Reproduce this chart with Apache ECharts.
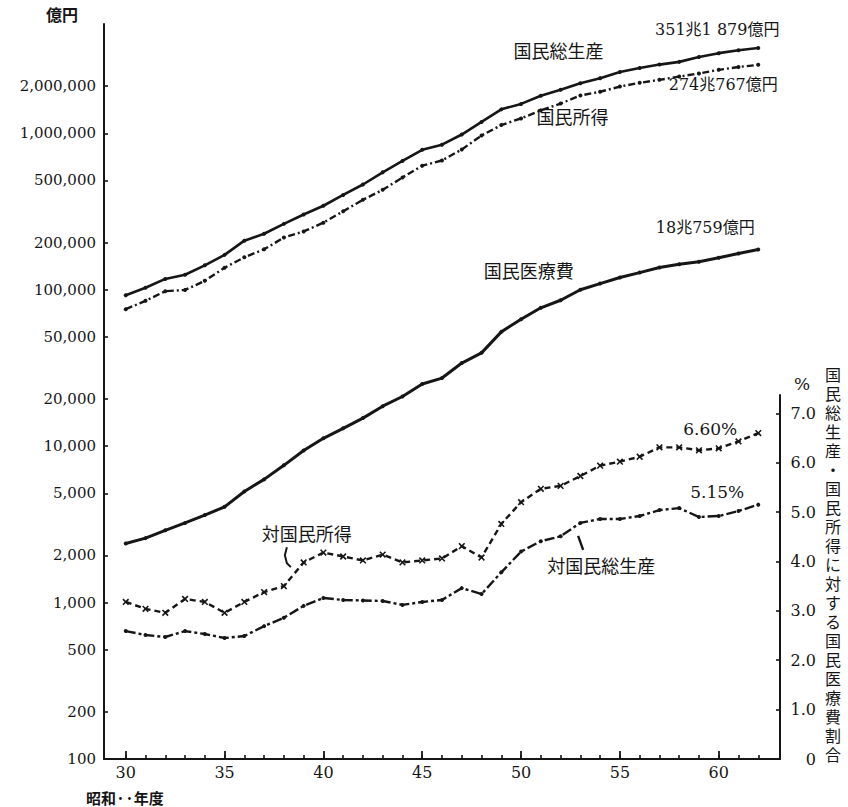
<!DOCTYPE html>
<html lang="ja">
<head>
<meta charset="utf-8">
<title>国民医療費と国民総生産・国民所得の推移</title>
<script src="https://cdn.jsdelivr.net/npm/echarts@6/dist/echarts.min.js"></script>
<style>
  html, body { margin: 0; padding: 0; background: #ffffff; }
  #chart { width: 848px; height: 807px; }
</style>
</head>
<body>
<div id="chart"></div>
<script>
// 昭和年度
const years = [30, 31, 32, 33, 34, 35, 36, 37, 38, 39, 40, 41, 42, 43, 44, 45, 46,
               47, 48, 49, 50, 51, 52, 53, 54, 55, 56, 57, 58, 59, 60, 61, 62];

// 国民総生産（億円）
const gnp = [92200, 102900, 117300, 124700, 143300, 167100, 206000, 228000, 263700,
             302900, 344300, 403800, 470900, 563000, 666000, 785000, 846300, 982500,
             1182500, 1422900, 1542000, 1738900, 1900000, 2093000, 2253300, 2465100,
             2616000, 2751000, 2863000, 3080000, 3255000, 3400000, 3511879];

// 国民所得（億円）
const nationalIncome = [75100, 85000, 97900, 99700, 114000, 138300, 161300, 181400,
             215500, 235900, 268500, 317100, 376000, 435200, 522100, 621000, 671200,
             788700, 968000, 1130000, 1245800, 1401900, 1549500, 1745900, 1843600,
             1990100, 2103100, 2197400, 2304900, 2414900, 2546300, 2654600, 2740767];

// 国民医療費（億円）
const medicalCost = [2388, 2583, 2897, 3230, 3625, 4095, 5130, 6132, 7541, 9389,
             11224, 13002, 15116, 18016, 20780, 24962, 27250, 33994, 39496, 53786,
             64779, 76684, 85686, 100042, 109510, 119805, 128709, 138659, 145438,
             150932, 160159, 170690, 180759];

// 国民医療費の割合（%）
const ratioToIncome = [3.18, 3.04, 2.96, 3.24, 3.18, 2.96, 3.18, 3.38, 3.50, 3.98,
             4.18, 4.10, 4.02, 4.14, 3.98, 4.02, 4.06, 4.31, 4.08, 4.76, 5.20, 5.47,
             5.53, 5.73, 5.94, 6.02, 6.12, 6.31, 6.31, 6.25, 6.29, 6.43, 6.60];
const ratioToGnp = [2.59, 2.51, 2.47, 2.59, 2.53, 2.45, 2.49, 2.69, 2.86, 3.10,
             3.26, 3.22, 3.21, 3.20, 3.12, 3.18, 3.22, 3.46, 3.34, 3.78, 4.20, 4.41,
             4.51, 4.78, 4.86, 4.86, 4.92, 5.04, 5.08, 4.90, 4.92, 5.02, 5.15];

// 目盛
const leftTicks = [100, 200, 500, 1000, 2000, 5000, 10000, 20000, 50000,
                   100000, 200000, 500000, 1000000, 2000000];
const rightTicks = [0, 1, 2, 3, 4, 5, 6, 7];
const yearMajorTicks = [30, 35, 40, 45, 50, 55, 60];

const ink = '#161616';
const numFont = '"DejaVu Serif", "Noto Sans CJK JP", serif';
const cjkFont = '"Noto Sans CJK JP", sans-serif';
const stackFont = '"Liberation Sans", "Noto Sans CJK JP", sans-serif';
const sideTitle = '国民総生産・国民所得に対する国民医療費割合';

// 351兆1 879億円 の形に整える
function formatChoOku(v) {
  const cho = Math.floor(v / 10000);
  const oku = v % 10000;
  const okuText = oku >= 1000
    ? Math.floor(oku / 1000) + ' ' + String(oku % 1000).padStart(3, '0')
    : String(oku);
  return cho + '兆' + okuText + '億円';
}

function seriesData(values, notes) {
  const data = years.map((y, i) => [y, values[i]]);
  notes.forEach(n => {
    const i = years.indexOf(n.year);
    data[i] = {
      value: data[i],
      label: {
        show: true, position: 'inside', offset: n.offset, formatter: n.text,
        fontSize: n.size, fontFamily: n.font, color: ink
      }
    };
  });
  return data;
}

const last = years[years.length - 1];
const lastIdx = years.length - 1;

const crossMark = 'path://M4,0L6,0L6,4L10,4L10,6L6,6L6,10L4,10L4,6L0,6L0,4L4,4Z';

const chart = echarts.init(document.getElementById('chart'), null, { renderer: 'svg' });

// 軸外の見出し（年度・縦書きの割合見出し）
const fixedTexts = [
  {
    type: 'text', left: 86, top: 790,
    style: { text: '昭和··年度', fill: ink, fontSize: 15, fontFamily: cjkFont, fontWeight: 'bold' }
  },
  {
    type: 'text', left: 825, top: 366,
    style: { text: sideTitle.split('').join('\n'), fill: ink, fontSize: 16,
             lineHeight: 19, fontFamily: stackFont, align: 'center' }
  }
];

const option = {
  animation: false,
  backgroundColor: '#ffffff',
  grid: [
    { left: 104, right: 68, top: 24, bottom: 48, containLabel: false, outerBoundsMode: 'none' },
    { left: 104, right: 68, top: 395, bottom: 48, containLabel: false, outerBoundsMode: 'none' }
  ],
  xAxis: [
    { // 毎年の目盛
      gridIndex: 0, type: 'value', min: 28.9, max: 63.1, position: 'bottom',
      axisLine: { show: true, lineStyle: { color: ink, width: 2 } },
      axisTick: { show: true, inside: true, length: 4, customValues: years,
                  lineStyle: { color: ink, width: 1.6 } },
      axisLabel: { show: false },
      splitLine: { show: false }
    },
    { // 5年ごとの目盛と年度
      gridIndex: 0, type: 'value', min: 28.9, max: 63.1, position: 'bottom',
      axisLine: { show: false },
      axisTick: { show: true, inside: true, length: 8, customValues: yearMajorTicks,
                  lineStyle: { color: ink, width: 1.8 } },
      axisLabel: { show: true, customValues: yearMajorTicks, margin: 5,
                   color: ink, fontSize: 16, fontFamily: numFont },
      splitLine: { show: false }
    },
    {
      gridIndex: 1, type: 'value', min: 28.9, max: 63.1, show: false
    }
  ],
  yAxis: [
    {
      gridIndex: 0, type: 'log', logBase: 10, min: 100, max: 5000000, position: 'left',
      name: '億円', nameLocation: 'end', nameGap: 2,
      nameTextStyle: { color: ink, fontSize: 16, fontFamily: cjkFont, fontWeight: 'bold',
                       align: 'right', padding: [0, 26, 0, 0] },
      axisLine: { show: true, lineStyle: { color: ink, width: 2 } },
      axisTick: { show: true, inside: true, length: 4, customValues: leftTicks,
                  lineStyle: { color: ink, width: 1.6 } },
      axisLabel: { show: true, customValues: leftTicks, margin: 8, color: ink,
                   fontSize: 15, fontFamily: numFont,
                   formatter: v => Math.round(v).toLocaleString('en-US') },
      splitLine: { show: false }
    },
    {
      gridIndex: 1, type: 'value', min: 0, max: 7.37, position: 'right',
      name: '%', nameLocation: 'end', nameGap: 3,
      nameTextStyle: { color: ink, fontSize: 17, fontFamily: numFont,
                       align: 'left', padding: [0, 0, 0, 14] },
      axisLine: { show: true, lineStyle: { color: ink, width: 2 } },
      axisTick: { show: true, inside: true, length: 4, customValues: rightTicks,
                  lineStyle: { color: ink, width: 1.6 } },
      axisLabel: { show: true, customValues: rightTicks, margin: 36, align: 'right',
                   color: ink, fontSize: 16, fontFamily: numFont,
                   formatter: v => (v === 0 ? '0' : v.toFixed(1)) },
      splitLine: { show: false }
    }
  ],
  series: [
    {
      name: '国民総生産', type: 'line', xAxisIndex: 0, yAxisIndex: 0,
      symbol: 'circle', symbolSize: 4, itemStyle: { color: ink },
      lineStyle: { color: ink, width: 2.6 },
      data: seriesData(gnp, [
        { year: 52, text: '国民総生産', offset: [-2, -40], size: 18, font: cjkFont },
        { year: last, text: formatChoOku(gnp[lastIdx]), offset: [-41, -18], size: 16, font: numFont }
      ])
    },
    {
      name: '国民所得', type: 'line', xAxisIndex: 0, yAxisIndex: 0,
      symbol: 'circle', symbolSize: 4, itemStyle: { color: ink },
      lineStyle: { color: ink, width: 2.4, type: [7, 3, 2, 3] },
      data: seriesData(nationalIncome, [
        { year: 52, text: '国民所得', offset: [12, 12], size: 18, font: cjkFont },
        { year: last, text: formatChoOku(nationalIncome[lastIdx]), offset: [-35, 20], size: 16, font: numFont }
      ])
    },
    {
      name: '国民医療費', type: 'line', xAxisIndex: 0, yAxisIndex: 0,
      symbol: 'circle', symbolSize: 4, itemStyle: { color: ink },
      lineStyle: { color: ink, width: 3 },
      data: seriesData(medicalCost, [
        { year: 51, text: '国民医療費', offset: [-12, -38], size: 18, font: cjkFont },
        { year: last, text: formatChoOku(medicalCost[lastIdx]), offset: [-53, -22], size: 16, font: numFont }
      ])
    },
    {
      name: '対国民所得', type: 'line', xAxisIndex: 2, yAxisIndex: 1,
      symbol: crossMark, symbolRotate: 45, symbolSize: 8, itemStyle: { color: ink },
      lineStyle: { color: ink, width: 2.4, type: [6, 4] },
      data: seriesData(ratioToIncome, [
        { year: 38, text: '対国民所得', offset: [23, -53], size: 18, font: cjkFont },
        { year: last, text: ratioToIncome[lastIdx].toFixed(2) + '%', offset: [-48, -4], size: 17, font: numFont }
      ])
    },
    {
      name: '対国民総生産', type: 'line', xAxisIndex: 2, yAxisIndex: 1,
      symbol: 'circle', symbolSize: 4, itemStyle: { color: ink },
      lineStyle: { color: ink, width: 2.4, type: [10, 3, 3, 3] },
      data: seriesData(ratioToGnp, [
        { year: 54, text: '対国民総生産', offset: [1, 46], size: 18, font: cjkFont },
        { year: last, text: ratioToGnp[lastIdx].toFixed(2) + '%', offset: [-41, -13], size: 17, font: numFont }
      ])
    }
  ],
  graphic: fixedTexts
};

chart.setOption(option);

// 注記の引出線
const a1 = chart.convertToPixel({ seriesIndex: 3 }, [38, ratioToIncome[years.indexOf(38)]]);
const a2 = chart.convertToPixel({ seriesIndex: 4 }, [54, ratioToGnp[years.indexOf(54)]]);
chart.setOption({
  graphic: fixedTexts.concat([
    {
      type: 'polyline',
      shape: { points: [[a1[0] + 3, a1[1] - 39], [a1[0] + 1, a1[1] - 31],
                        [a1[0] + 3, a1[1] - 23], [a1[0] + 7, a1[1] - 19]] },
      style: { stroke: ink, lineWidth: 2, fill: 'none' }
    },
    {
      type: 'polyline',
      shape: { points: [[a2[0] - 17, a2[1] + 31], [a2[0] - 22, a2[1] + 17]] },
      style: { stroke: ink, lineWidth: 2.4, fill: 'none' }
    }
  ])
});
</script>
</body>
</html>
